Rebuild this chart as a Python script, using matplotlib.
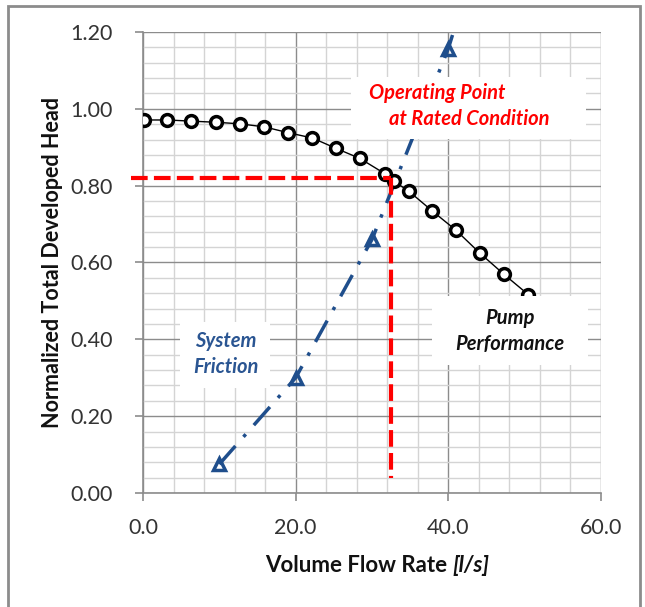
import numpy as np
import matplotlib
matplotlib.use('Agg')
import matplotlib.pyplot as plt
from matplotlib.patches import Rectangle
from matplotlib.ticker import MultipleLocator

plt.rcParams['font.family'] = ['Lato', 'DejaVu Sans']

# pump performance curve (normalized head vs flow)
pump_flow = [0.1, 3.2, 6.3, 9.6, 12.7, 15.9, 19.0, 22.2, 25.3, 28.4, 31.7, 32.9,
             34.8, 37.9, 41.0, 44.1, 47.3, 50.5]
pump_head = [0.971, 0.971, 0.968, 0.965, 0.961, 0.953, 0.938, 0.924, 0.897, 0.871,
             0.831, 0.811, 0.786, 0.734, 0.684, 0.625, 0.569, 0.516]

# system friction curve
sys_flow = [10, 20, 30, 40, 50]
sys_head = [0.075, 0.300, 0.660, 1.157, 1.800]

# operating point at rated condition
op_flow = 32.5
op_head = 0.82

W, H = 645, 607
fig = plt.figure(figsize=(W / 100, H / 100), dpi=100)
ax = fig.add_axes([143 / W, 1 - 493 / H, 458 / W, 461 / H])

ax.set_xlim(0, 60)
ax.set_ylim(0, 1.2)
ax.xaxis.set_major_locator(MultipleLocator(20))
ax.xaxis.set_minor_locator(MultipleLocator(4))
ax.yaxis.set_major_locator(MultipleLocator(0.2))
ax.yaxis.set_minor_locator(MultipleLocator(0.04))
ax.grid(which='major', color='#8c8c8c', lw=1.0, zorder=0)
ax.grid(which='minor', color='#d4d4d4', lw=1.0, zorder=0)
ax.set_axisbelow(True)
for s in ['top', 'right']:
    ax.spines[s].set_visible(False)
for s in ['left', 'bottom']:
    ax.spines[s].set_color('#8c8c8c')
    ax.spines[s].set_linewidth(1.2)

ax.xaxis.set_major_formatter(plt.FuncFormatter(lambda v, p: f'{v:.1f}'))
ax.yaxis.set_major_formatter(plt.FuncFormatter(lambda v, p: f'{v:.2f}'))
ax.tick_params(which='major', length=6, width=1.2, color='#8c8c8c',
               labelsize=15.5, labelcolor='#333333')
ax.tick_params(axis='y', which='major', pad=16)
ax.tick_params(axis='x', which='major', pad=12)
ax.tick_params(which='minor', length=0)

# curves
ax.plot(sys_flow, sys_head, color='#1f4e8c', lw=2.5, dashes=(7, 3.5, 1, 3.5),
        marker='^', ms=9, mfc='none', mew=2.5, zorder=3)
ax.plot(pump_flow, pump_head, color='black', lw=1.0,
        marker='o', ms=8.5, mfc='white', mew=2.5, zorder=4)

# operating point guide lines
ax.plot([-1.6, op_flow], [op_head, op_head], color='red', lw=3, dashes=(4, 1.5),
        clip_on=False, zorder=5)
ax.plot([op_flow, op_flow], [op_head, 0.04], color='red', lw=3, dashes=(4, 1.5),
        zorder=5)

# label boxes
for (x0, y0, w, h) in [(27.2, 0.921, 30.9, 0.161), (37.9, 0.334, 20.4, 0.178),
                       (4.8, 0.274, 11.9, 0.170)]:
    ax.add_patch(Rectangle((x0, y0), w, h, facecolor='white', edgecolor='none', zorder=6))

tkw = dict(fontsize=14.5, fontweight='bold', fontstyle='italic', ha='center',
           va='center', zorder=7)
ax.text(38.6, 1.040, 'Operating Point', color='red', **tkw)
ax.text(42.8, 0.973, 'at Rated Condition', color='red', **tkw)
ax.text(48.1, 0.455, 'Pump', color='#111111', **tkw)
ax.text(48.1, 0.389, 'Performance', color='#111111', **tkw)
ax.text(10.8, 0.396, 'System', color='#2a5592', **tkw)
ax.text(10.8, 0.329, 'Friction', color='#2a5592', **tkw)

# axis titles
fig.text(53 / W, 1 - 263 / H, 'Normalized Total Developed Head', rotation=90,
         fontsize=15.5, fontweight='bold', ha='center', va='center', color='#111111')
fig.text(447 / W, 1 - 566 / H, 'Volume Flow Rate', fontsize=16, fontweight='bold',
         ha='right', va='center', color='#111111')
fig.text(452 / W, 1 - 566 / H, '[l/s]', fontsize=16, fontweight='bold',
         fontstyle='italic', ha='left', va='center', color='#111111')

# chart border
fig.patches.append(Rectangle((7.5 / W, -0.05), 632 / W, 1.05 - 5.5 / H,
                             transform=fig.transFigure, facecolor='none',
                             edgecolor='#8c8c8c', lw=2, zorder=0))

fig.savefig('out.png', dpi=100, facecolor='white')
